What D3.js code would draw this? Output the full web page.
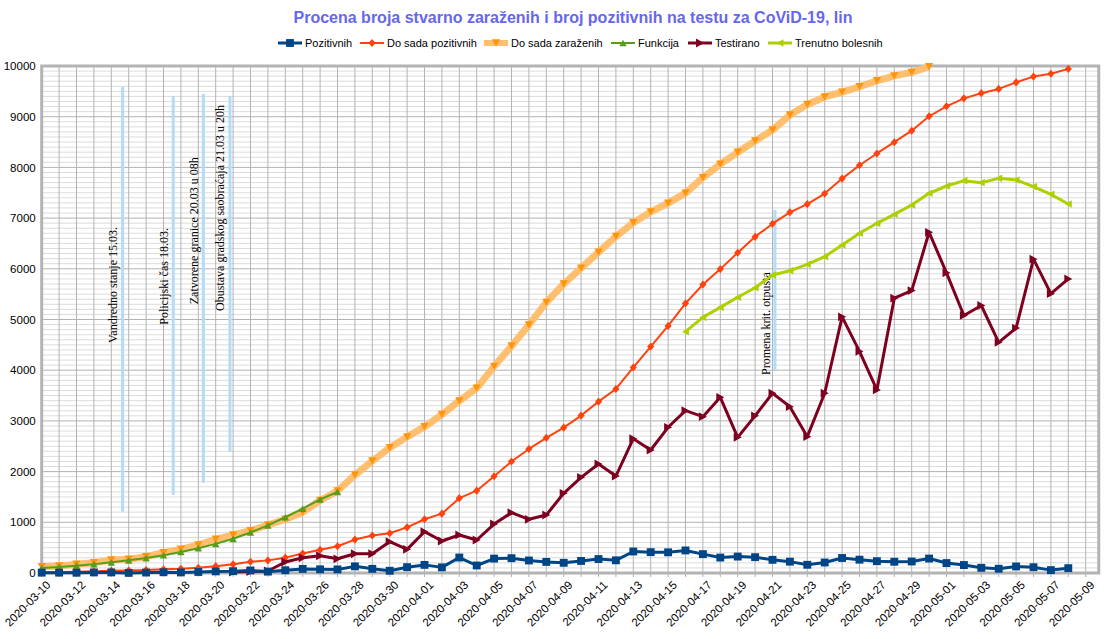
<!DOCTYPE html>
<html><head><meta charset="utf-8">
<script src="https://cdn.jsdelivr.net/npm/d3@7"></script>
<style>body{margin:0;background:#fff;} svg{display:block;font-family:"Liberation Sans",Arial,sans-serif;}</style>
</head><body>
<svg id="chart" width="1114" height="639"></svg>
<script>
// ---------- data ----------
const nDays = 61; // 2020-03-10 .. 2020-05-09
const dates = d3.range(nDays).map(i => d3.timeFormat("%Y-%m-%d")(d3.timeDay.offset(new Date(2020, 2, 10), i)));
const tickLabels = dates.filter((d, i) => i % 2 === 0);

const seriesNames = ["Pozitivnih", "Do sada pozitivnih", "Do sada zaraženih", "Funkcija", "Testirano", "Trenutno bolesnih"];

const pozitivnih = [7,7,5,11,11,2,9,15,11,20,32,36,51,27,54,81,73,71,131,82,44,115,160,111,305,148,284,292,247,219,201,238,275,250,424,411,408,445,372,304,324,312,260,224,162,207,296,263,233,222,227,285,196,157,102,84,129,114,57,95];
const doSadaPozitivnih = [12,19,24,35,46,48,57,72,83,103,135,171,222,249,303,384,457,528,659,741,785,900,1060,1171,1476,1624,1908,2200,2447,2666,2867,3105,3380,3630,4054,4465,4873,5318,5690,5994,6318,6630,6890,7114,7276,7483,7779,8042,8275,8497,8724,9009,9205,9362,9464,9548,9677,9791,9848,9943];
const doSadaZarazenih = [125,138,171,203,256,270,322,400,467,552,665,750,834,947,1060,1200,1430,1617,1933,2210,2470,2685,2883,3126,3395,3646,4076,4477,4892,5338,5700,6013,6328,6637,6910,7123,7295,7492,7798,8064,8298,8521,8738,9034,9240,9390,9484,9590,9708,9806,9875,9985];
const funkcija = [100,120,145,175,210,250,295,350,415,490,575,675,800,940,1100,1270,1450,1600];
const testiranoStart = 11;
const testirano = [20,30,40,217,300,340,280,380,380,617,467,815,631,750,651,966,1190,1059,1144,1572,1887,2150,1913,2649,2426,2874,3202,3083,3465,2676,3100,3545,3281,2689,3545,5052,4370,3610,5420,5570,6720,5920,5080,5276,4550,4830,6190,5510,5800];
const trenutnoStart = 37;
const trenutnoBolesnih = [4760,5043,5240,5438,5627,5878,5963,6088,6240,6469,6700,6897,7075,7258,7489,7633,7738,7699,7784,7751,7620,7469,7278];

const yTicks = [0,1000,2000,3000,4000,5000,6000,7000,8000,9000,10000];

const annotations = [
  {text:"Vandredno stanje 15.03.", lineDay:4.65, lineFrom:1210, lineTo:9590, textDay:4.08, textMid:5680},
  {text:"Policijski čas 18.03.", lineDay:7.56, lineFrom:1540, lineTo:9410, textDay:7.03, textMid:5850},
  {text:"Zatvorene granice 20.03 u 08h", lineDay:9.29, lineFrom:1780, lineTo:9450, textDay:8.74, textMid:6750},
  {text:"Obustava gradskog saobraćaja 21.03 u 20h", lineDay:10.82, lineFrom:2390, lineTo:9410, textDay:10.22, textMid:7200},
  {text:"Promena krit. otpusta", lineDay:42.14, lineFrom:4000, lineTo:7160, textDay:41.63, textMid:4920}
];

(function () {
const svg = d3.select("#chart");
const pL = 41.7, step = 17.4, pT = 66, pB = 573;
const x = d3.scaleLinear().domain([0, nDays - 1]).range([pL, pL + step * (nDays - 1)]);
const pR = x(nDays - 0.25);
const y = d3.scaleLinear().domain([0, 10000]).range([pB, pT]);

function toPts(vals, start) { return vals.map((v, i) => ({i: i + start, v})); }

const series = [
  {name: seriesNames[0], pts: toPts(pozitivnih, 0), color:"#004586", width:3, sym:"square", size:62, mcolor:"#004586"},
  {name: seriesNames[1], pts: toPts(doSadaPozitivnih, 0), color:"#ff420e", width:2, sym:"diamond", size:42, mcolor:"#ff420e"},
  {name: seriesNames[2], pts: toPts(doSadaZarazenih, 0), color:"#ffbf6e", width:7, sym:"down", size:55, mcolor:"#ff950e"},
  {name: seriesNames[3], pts: toPts(funkcija, 0), color:"#579d1c", width:2, sym:"up", size:45, mcolor:"#579d1c"},
  {name: seriesNames[4], pts: toPts(testirano, testiranoStart), color:"#7e0021", width:3, sym:"right", size:64, mcolor:"#7e0021"},
  {name: seriesNames[5], pts: toPts(trenutnoBolesnih, trenutnoStart), color:"#aecf00", width:3, sym:"left", size:48, mcolor:"#aecf00"}
];

const g = svg.append("g");
d3.range(0, 10001, 100).filter(v => v % 1000 !== 0).forEach(v => {
  g.append("line").attr("x1", pL).attr("x2", pR).attr("y1", y(v)).attr("y2", y(v)).attr("stroke", "#dcdcdc").attr("stroke-width", 1);
});
d3.range(1, nDays).forEach(i => {
  g.append("line").attr("x1", x(i)).attr("x2", x(i)).attr("y1", pT).attr("y2", pB).attr("stroke", "#b3b3b3").attr("stroke-width", 1);
});
yTicks.forEach(v => {
  g.append("line").attr("x1", pL).attr("x2", pR).attr("y1", y(v)).attr("y2", y(v)).attr("stroke", "#b3b3b3").attr("stroke-width", 1);
});
g.append("rect").attr("x", pL).attr("y", pT).attr("width", pR-pL).attr("height", pB-pT)
  .attr("fill","none").attr("stroke","#b3b3b3").attr("stroke-width",3);

const yAxis = d3.axisLeft(y).tickValues(yTicks).tickSize(0).tickPadding(6).tickFormat(d3.format("d"));
const ya = svg.append("g").attr("transform", `translate(${pL},0)`).call(yAxis);
ya.select(".domain").remove();
ya.selectAll("text").attr("font-size", 11.5).attr("fill", "#000").attr("font-family", "Liberation Sans, Arial, sans-serif");

const xa = svg.append("g");
d3.range(0, nDays).forEach(i => {
  xa.append("line").attr("x1", x(i)).attr("x2", x(i)).attr("y1", pB).attr("y2", pB + 4).attr("stroke", "#b3b3b3").attr("stroke-width", 1);
});
tickLabels.forEach((d) => {
  const i = dates.indexOf(d);
  xa.append("text").text(d)
    .attr("transform", `translate(${x(i) + 4},${pB + 7}) rotate(-45)`)
    .attr("text-anchor", "end").attr("dominant-baseline", "hanging")
    .attr("font-size", 11.5).attr("fill", "#000");
});

annotations.forEach(a => {
  svg.append("line").attr("x1", x(a.lineDay)).attr("x2", x(a.lineDay)).attr("y1", y(a.lineFrom)).attr("y2", y(a.lineTo))
    .attr("stroke", "#b4dcf7").attr("stroke-width", 3);
  svg.append("text").text(a.text)
    .attr("transform", `translate(${x(a.textDay)},${y(a.textMid)}) rotate(-90)`)
    .attr("text-anchor", "middle").attr("dominant-baseline", "central")
    .attr("font-family", "Liberation Serif, Times New Roman, serif").attr("font-size", 12).attr("fill", "#000");
});

function symPath(sym, size) {
  const r = Math.sqrt(size) / 2;
  switch (sym) {
    case "square": return `M${-r},${-r}h${2*r}v${2*r}h${-2*r}Z`;
    case "diamond": return `M0,${-r*1.25}L${r*1.1},0L0,${r*1.25}L${-r*1.1},0Z`;
    case "down": return `M${-r*1.1},${-r}L${r*1.1},${-r}L0,${r}Z`;
    case "up": return `M${-r*1.1},${r}L${r*1.1},${r}L0,${-r}Z`;
    case "right": return `M${-r},${-r*1.1}L${-r},${r*1.1}L${r},0Z`;
    case "left": return `M${r},${-r*1.1}L${r},${r*1.1}L${-r},0Z`;
  }
}

const line = d3.line().x(d => x(d.i)).y(d => y(d.v));
[2, 3, 1, 5, 4, 0].forEach(k => {
  const s = series[k];
  svg.append("path").datum(s.pts).attr("d", line).attr("fill", "none")
    .attr("stroke", s.color).attr("stroke-width", s.width).attr("stroke-linejoin", "round");
  svg.append("g").selectAll("path").data(s.pts).join("path")
    .attr("transform", d => `translate(${x(d.i)},${y(d.v)})`)
    .attr("d", symPath(s.sym, s.size)).attr("fill", s.mcolor);
});

svg.append("text").text("Procena broja stvarno zaraženih i broj pozitivnih na testu za CoViD-19, lin")
  .attr("x", 573).attr("y", 23).attr("text-anchor", "middle")
  .attr("font-size", 16).attr("font-weight", "bold").attr("fill", "#6666ee");

const legendX = [278, 360, 484, 611, 688, 768];
seriesNames.forEach((n, k) => {
  const s = series[k];
  const lg = svg.append("g").attr("transform", `translate(${legendX[k]},43)`);
  lg.append("line").attr("x1", 0).attr("x2", 24).attr("y1", 0).attr("y2", 0)
    .attr("stroke", s.color).attr("stroke-width", Math.min(s.width, 6));
  lg.append("path").attr("transform", "translate(12,0)").attr("d", symPath(s.sym, s.size)).attr("fill", s.mcolor);
  lg.append("text").text(n).attr("x", 27).attr("y", 0).attr("dominant-baseline", "central")
    .attr("font-size", 11).attr("fill", "#000");
});
})();
</script>
</body></html>
